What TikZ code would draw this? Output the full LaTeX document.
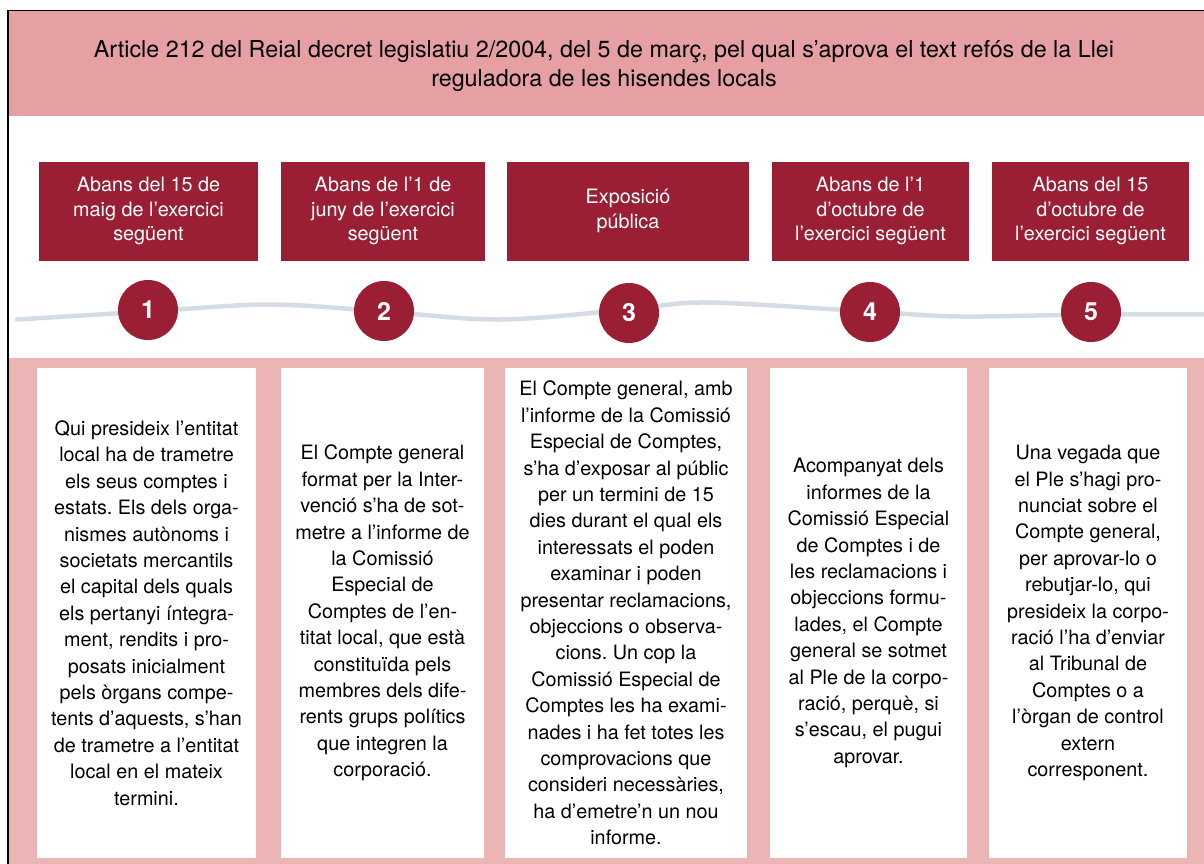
\documentclass[tikz,border=0pt]{standalone}
\usepackage{fontspec}
\setmainfont{TeX Gyre Heros}
\frenchspacing
\definecolor{darkred}{HTML}{9A1F34}
\definecolor{headpink}{HTML}{E6A0A3}
\definecolor{lowpink}{HTML}{EBB5B6}
\definecolor{wave}{HTML}{D5DCE5}
\begin{document}
\begin{tikzpicture}[x=1pt,y=-1pt,
  datebox/.style={fill=darkred, text=white, minimum height=99pt, inner sep=0pt, align=center, font=\fontsize{19.8}{24.5}\selectfont},
  descbox/.style={fill=white, minimum height=490pt, inner sep=0pt, align=center, font=\fontsize{19.8}{26.4}\selectfont},
  stepnum/.style={circle, fill=darkred, minimum size=60pt, inner sep=0pt, text=white, font=\fontsize{25}{25}\selectfont\bfseries},
  timeline/.style={draw=wave, line width=4.5pt, line cap=round}]
\useasboundingbox (0,0) rectangle (1204,864);
\fill[white] (0,0) rectangle (1204,864);
% frame
\fill[headpink] (9,11) rectangle (1204,116);
\fill[lowpink] (9,358) rectangle (1204,864);
\draw[black, line width=1.4pt] (8,864) -- (8,10.5) -- (1204,10.5);
% header
\node[align=center, font=\fontsize{23.3}{29}\selectfont] (head) at (604,66.5)
  {Article 212 del Reial decret legislatiu 2/2004, del 5 de març, pel qual s’aprova el text refós de la Llei\\reguladora de les hisendes locals};
% date boxes
\node[datebox, minimum width=219pt] (d1) at (148.5,211) {Abans del 15 de\\maig de l’exercici\\següent};
\node[datebox, minimum width=204pt] (d2) at (383,211) {Abans de l’1 de\\juny de l’exercici\\següent};
\node[datebox, minimum width=242pt] (d3) at (628,211) {Exposició\\pública};
\node[datebox, minimum width=197pt] (d4) at (870.5,211) {Abans de l’1\\d’octubre de\\l’exercici següent};
\node[datebox, minimum width=197pt] (d5) at (1090.5,211) {Abans del 15\\d’octubre de\\l’exercici següent};
% wavy timeline
\draw[timeline] plot[smooth, tension=0.55] coordinates
  {(17,319.5) (148,311.5) (270,304.5) (383,311.5) (500,319.5) (629,309.5) (707,302.5) (869,311.5) (960,316.5) (1091,314.5) (1210,314.5)};
% step circles
\node[stepnum] (c1) at (148,310) {1};
\node[stepnum] (c2) at (384,311) {2};
\node[stepnum] (c3) at (629,313) {3};
\node[stepnum] (c4) at (870,312) {4};
\node[stepnum] (c5) at (1091,312) {5};
% description boxes
\node[descbox, minimum width=219pt] (t1) at (146.5,613) {Qui presideix l’entitat\\local ha de trametre\\els seus comptes i\\estats. Els dels orga-\\nismes autònoms i\\societats mercantils\\el capital dels quals\\els pertanyi íntegra-\\ment, rendits i pro-\\posats inicialment\\pels òrgans compe-\\tents d’aquests, s’han\\de trametre a l’entitat\\local en el mateix\\termini.};
\node[descbox, minimum width=203pt] (t2) at (382.5,613) {El Compte general\\format per la Inter-\\venció s’ha de sot-\\metre a l’informe de\\la Comissió\\Especial de\\Comptes de l’en-\\titat local, que està\\constituïda pels\\membres dels dife-\\rents grups polítics\\que integren la\\corporació.};
\node[descbox, minimum width=242pt] (t3) at (626,613) {El Compte general, amb\\l’informe de la Comissió\\Especial de Comptes,\\s’ha d’exposar al públic\\per un termini de 15\\dies durant el qual els\\interessats el poden\\examinar i poden\\presentar reclamacions,\\objeccions o observa-\\cions. Un cop la\\Comissió Especial de\\Comptes les ha exami-\\nades i ha fet totes les\\comprovacions que\\consideri necessàries,\\ha d’emetre’n un nou\\informe.};
\node[descbox, minimum width=197pt] (t4) at (868.5,613) {Acompanyat dels\\informes de la\\Comissió Especial\\de Comptes i de\\les reclamacions i\\objeccions formu-\\lades, el Compte\\general se sotmet\\al Ple de la corpo-\\ració, perquè, si\\s’escau, el pugui\\aprovar.};
\node[descbox, minimum width=198pt] (t5) at (1088,613) {Una vegada que\\el Ple s’hagi pro-\\nunciat sobre el\\Compte general,\\per aprovar-lo o\\rebutjar-lo, qui\\presideix la corpo-\\ració l’ha d’enviar\\al Tribunal de\\Comptes o a\\l’òrgan de control\\extern\\corresponent.};
\end{tikzpicture}
\end{document}
